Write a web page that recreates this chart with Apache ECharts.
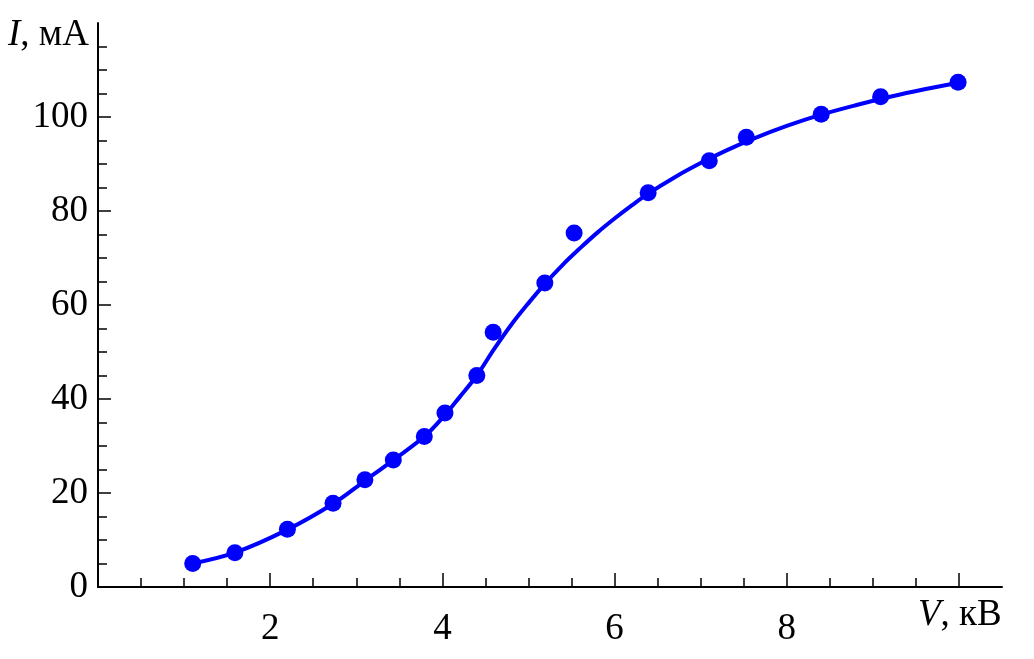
<!DOCTYPE html>
<html>
<head>
<meta charset="utf-8">
<script src="https://cdn.jsdelivr.net/npm/echarts@6/dist/echarts.min.js"></script>
<style>
html,body{margin:0;padding:0;background:#fff;}
#chart{width:1034px;height:659px;}
</style>
</head>
<body>
<div id="chart"></div>
<script>
// measured points
const voltage = [1.10, 1.59, 2.20, 2.73, 3.10, 3.43, 3.79, 4.03, 4.40, 4.59, 5.19, 5.53, 6.39, 7.10, 7.53, 8.40, 9.09, 9.99];
const current = [5.0, 7.3, 12.3, 17.8, 22.8, 27.0, 32.0, 37.0, 45.0, 54.2, 64.7, 75.3, 83.9, 90.7, 95.7, 100.6, 104.3, 107.4];
// fitted curve
const curveV = [1.10, 1.59, 2.20, 2.73, 3.10, 3.43, 3.79, 4.03, 4.20, 4.40, 4.60, 4.80, 5.00, 5.19, 5.40, 5.60, 5.80, 6.00, 6.20, 6.39, 6.70, 7.00, 7.30, 7.60, 8.00, 8.40, 8.80, 9.20, 9.60, 9.99];
const curveI = [5.0, 7.3, 12.2, 17.7, 22.6, 27.0, 32.0, 36.6, 40.4, 45.0, 50.6, 55.8, 60.4, 64.5, 68.6, 72.1, 75.4, 78.4, 81.2, 83.7, 87.2, 90.2, 92.9, 95.3, 98.1, 100.5, 102.5, 104.3, 105.9, 107.3];
// ticks and labels
const xMajorTicks = [2, 4, 6, 8, 10];
const xLabels = [2, 4, 6, 8];
const xMinorTicks = [0.5, 1, 1.5, 2.5, 3, 3.5, 4.5, 5, 5.5, 6.5, 7, 7.5, 8.5, 9, 9.5];
const yMajorTicks = [0, 20, 40, 60, 80, 100];
const yLabels = [0, 20, 40, 60, 80, 100];
const yMinorTicks = [5, 10, 15, 25, 30, 35, 45, 50, 55, 65, 70, 75, 85, 90, 95, 105, 110, 115];

const FONT = 'Liberation Serif';
const chart = echarts.init(document.getElementById('chart'));

const baseAxis = {
  type: 'value',
  splitLine: { show: false },
  axisLine: { show: true, onZero: false, lineStyle: { color: '#000', width: 2 } },
};

chart.setOption({
  animation: false,
  backgroundColor: '#fff',
  grid: { left: 98, right: 32, top: 23, bottom: 72, containLabel: false },
  xAxis: [
    Object.assign({}, baseAxis, {
      min: 0, max: 10.5, position: 'bottom',
      axisTick: { show: true, inside: true, length: 14, customValues: xMajorTicks, lineStyle: { color: '#000', width: 1.5 } },
      axisLabel: { show: true, customValues: xLabels, margin: 24, color: '#000', fontFamily: FONT, fontSize: 37 }
    }),
    Object.assign({}, baseAxis, {
      min: 0, max: 10.5, position: 'bottom',
      axisLine: { show: false },
      axisTick: { show: true, inside: true, length: 9, customValues: xMinorTicks, lineStyle: { color: '#000', width: 1.5 } },
      axisLabel: { show: false }
    })
  ],
  yAxis: [
    Object.assign({}, baseAxis, {
      min: 0, max: 120, position: 'left',
      axisTick: { show: true, inside: true, length: 13, customValues: yMajorTicks, lineStyle: { color: '#000', width: 1.5 } },
      axisLabel: { show: true, customValues: yLabels, margin: 10, color: '#000', fontFamily: FONT, fontSize: 37 }
    }),
    Object.assign({}, baseAxis, {
      min: 0, max: 120, position: 'left',
      axisLine: { show: false },
      axisTick: { show: true, inside: true, length: 9, customValues: yMinorTicks, lineStyle: { color: '#000', width: 1.5 } },
      axisLabel: { show: false }
    })
  ],
  graphic: [
    {
      type: 'text', left: 8, top: 17,
      style: {
        text: '{i|I}, мА',
        font: '37px Liberation Serif',
        fill: '#000',
        rich: { i: { fontStyle: 'italic', fontFamily: FONT, fontSize: 37, fill: '#000' } }
      }
    },
    {
      type: 'text', left: 918, top: 597,
      style: {
        text: '{i|V}, кВ',
        font: '37px Liberation Serif',
        fill: '#000',
        rich: { i: { fontStyle: 'italic', fontFamily: FONT, fontSize: 37, fill: '#000' } }
      }
    }
  ],
  series: [
    {
      type: 'line',
      xAxisIndex: 0, yAxisIndex: 0,
      data: curveV.map((v, i) => [v, curveI[i]]),
      smooth: 0.35,
      showSymbol: false,
      lineStyle: { color: '#0000ff', width: 4 },
      z: 2
    },
    {
      type: 'scatter',
      xAxisIndex: 0, yAxisIndex: 0,
      data: voltage.map((v, i) => [v, current[i]]),
      symbol: 'circle',
      symbolSize: 17,
      itemStyle: { color: '#0000ff', opacity: 1 },
      z: 3
    }
  ]
});
</script>
</body>
</html>
